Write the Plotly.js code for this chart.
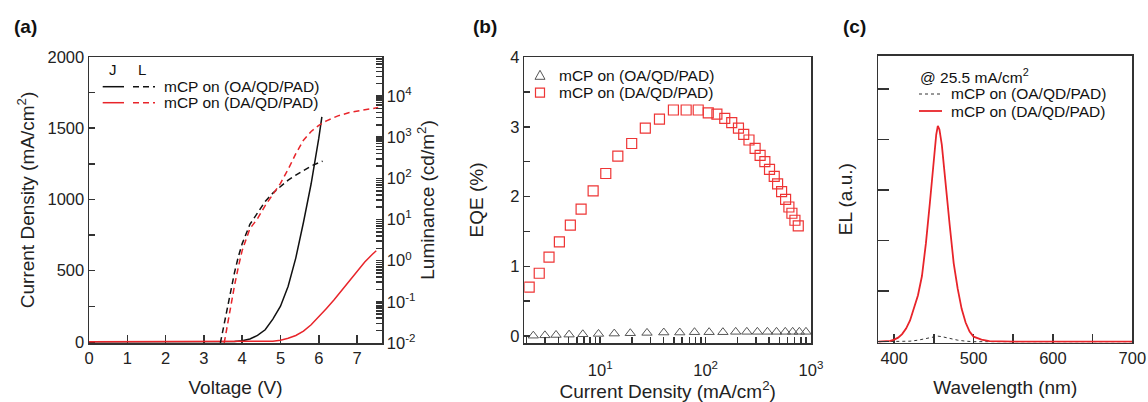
<!DOCTYPE html>
<html>
<head>
<meta charset="utf-8">
<script src="https://cdn.plot.ly/plotly-3.0.1.min.js"></script>
<style>html,body{margin:0;padding:0;background:#fff;}#chart{width:1148px;height:402px;}</style>
</head>
<body>
<div id="chart"></div>
<script>
// ---------- Panel (a): J-V-L ----------
const vJ_OA = [0, 3.5, 3.8, 4.0, 4.2, 4.4, 4.6, 4.8, 5.0, 5.2, 5.4, 5.6, 5.8, 6.0, 6.08];
const J_OA  = [0, 0.5, 3, 8, 20, 45, 85, 160, 250, 390, 590, 840, 1110, 1430, 1580];
const vJ_DA = [0, 4.5, 4.8, 5.0, 5.2, 5.4, 5.6, 5.8, 6.0, 6.2, 6.4, 6.6, 6.8, 7.0, 7.2, 7.4, 7.5];
const J_DA  = [0, 1, 5, 12, 25, 45, 75, 120, 175, 235, 295, 360, 430, 495, 560, 615, 640];
const vL_OA = [3.43, 3.5, 3.6, 3.7, 3.8, 3.9, 4.0, 4.2, 4.4, 4.6, 4.8, 5.0, 5.2, 5.4, 5.6, 5.8, 6.0, 6.1];
const L_OA  = [0.01, 0.022, 0.063, 0.2, 0.52, 1.26, 2.6, 7.6, 15, 27.5, 44, 63, 91, 120, 158, 200, 240, 263];
const vL_DA = [3.53, 3.6, 3.7, 3.8, 3.9, 4.0, 4.2, 4.4, 4.6, 4.8, 5.0, 5.2, 5.4, 5.6, 5.8, 6.0, 6.2, 6.5, 6.8, 7.1, 7.4, 7.55];
const L_DA  = [0.01, 0.024, 0.076, 0.25, 0.71, 1.78, 6.0, 10.5, 21.9, 41.7, 75.9, 166, 398, 851, 1380, 1950, 2510, 3310, 3980, 4470, 5010, 5250];
const jTicksA = [0, 500, 1000, 1500, 2000];
const lumDecades = [0.01, 0.1, 1, 10, 100, 1000, 10000];
const lumDecadeText = ['10<sup>-2</sup>','10<sup>-1</sup>','10<sup>0</sup>','10<sup>1</sup>','10<sup>2</sup>','10<sup>3</sup>','10<sup>4</sup>'];

// ---------- Panel (b): EQE ----------
const jEQE_OA = [2.32, 2.99, 3.81, 5.07, 6.84, 9.64, 13.6, 19.3, 27.8, 40.1, 56.9, 78.5, 108, 146, 193, 246, 310, 386, 471, 570, 670, 775, 896, 1038];
const EQE_OA  = [0.005, 0.01, 0.015, 0.02, 0.025, 0.03, 0.035, 0.04, 0.045, 0.05, 0.05, 0.055, 0.055, 0.055, 0.06, 0.06, 0.06, 0.06, 0.06, 0.06, 0.06, 0.06, 0.06, 0.06];
const jEQE_DA = [2.12, 2.64, 3.27, 4.10, 5.21, 6.59, 8.57, 11.3, 14.7, 19.9, 26.8, 36.5, 49.5, 65.4, 85.1, 106, 128, 152, 177, 205, 230, 258, 295, 329, 365, 404, 448, 482, 526, 574, 617, 659, 704, 757];
const EQE_DA  = [0.70, 0.90, 1.13, 1.35, 1.59, 1.82, 2.08, 2.33, 2.58, 2.76, 2.98, 3.11, 3.24, 3.24, 3.24, 3.20, 3.18, 3.12, 3.06, 2.98, 2.89, 2.81, 2.69, 2.59, 2.50, 2.39, 2.29, 2.18, 2.07, 1.96, 1.85, 1.76, 1.66, 1.58];
const jDecades = [10, 100, 1000];
const jDecadeText = ['10<sup>1</sup>', '10<sup>2</sup>', '10<sup>3</sup>'];

// ---------- Panel (c): EL spectra ----------
const wl_DA = [380, 390, 395, 400, 405, 410, 415, 420, 425, 430, 435, 440, 445, 450, 453, 455, 457, 460, 465, 470, 475, 480, 485, 490, 495, 500, 505, 510, 520, 530, 550, 600, 650, 700];
const EL_DA = [0, 0.005, 0.015, 0.04, 0.08, 0.15, 0.26, 0.42, 0.65, 0.92, 1.30, 1.95, 2.75, 3.65, 4.10, 4.27, 4.20, 3.90, 3.05, 2.30, 1.55, 1.05, 0.65, 0.38, 0.20, 0.10, 0.07, 0.04, 0.01, 0.003, 0, 0, 0, 0];
const wl_OA = [380, 410, 420, 430, 440, 450, 455, 460, 470, 480, 490, 500, 550, 700];
const EL_OA = [0, 0, 0.01, 0.03, 0.06, 0.10, 0.11, 0.10, 0.06, 0.03, 0.01, 0, 0, 0];
const wlTicks = [400, 500, 600, 700];

// ---------- labels ----------
const seriesOA = 'mCP on (OA/QD/PAD)';
const seriesDA = 'mCP on (DA/QD/PAD)';
const elNote = '@ 25.5 mA/cm<sup>2</sup>';

const RED = '#e8242a', BLK = '#111111', AX = '#333333', SQ = '#ee3535', TRI = '#555555';
const FONT = 'Liberation Sans, Arial, Helvetica, sans-serif';
const W = 1148, H = 402;
const px = v => v / W, py = v => 1 - v / H;

// tick arrays: labelled ticks plus unlabelled intermediate ticks
function linTicks(labelled, step) {
  const vals = [], text = [];
  const lo = labelled[0], hi = labelled[labelled.length - 1];
  const n = Math.round((hi - lo) / step);
  for (let k = 0; k <= n; k++) {
    const v = lo + k * step;
    const i = labelled.findIndex(l => Math.abs(l - v) < 1e-9);
    vals.push(v); text.push(i >= 0 ? String(labelled[i]) : '');
  }
  return {vals, text};
}
function logTicks(decades, labels, lo, hi) {
  const vals = [], text = [];
  decades.forEach((d, i) => {
    if (d >= lo && d <= hi) { vals.push(d); text.push(labels[i]); }
    for (let m = 2; m <= 9; m++) { const v = m * d; if (v >= lo && v <= hi) { vals.push(v); text.push(''); } }
  });
  return {vals, text};
}
const yA = linTicks(jTicksA, 250);
const lumT = logTicks(lumDecades, lumDecadeText, 0.01, 89000);
const jT = logTicks([1, 10, 100, 1000], ['', ...jDecadeText], 1.9, 1000);
const wlT = linTicks(wlTicks, 50);

const traces = [
  {x: vJ_OA, y: J_OA, xaxis: 'x', yaxis: 'y', mode: 'lines', name: 'J ' + seriesOA, line: {color: BLK, width: 1.5}, showlegend: false},
  {x: vJ_DA, y: J_DA, xaxis: 'x', yaxis: 'y', mode: 'lines', name: 'J ' + seriesDA, line: {color: RED, width: 1.5}, showlegend: false},
  {x: vL_OA, y: L_OA, xaxis: 'x', yaxis: 'y2', mode: 'lines', name: 'L ' + seriesOA, line: {color: BLK, width: 1.5, dash: '6px,4px'}, showlegend: false},
  {x: vL_DA, y: L_DA, xaxis: 'x', yaxis: 'y2', mode: 'lines', name: 'L ' + seriesDA, line: {color: RED, width: 1.5, dash: '6px,4px'}, showlegend: false},
  {x: jEQE_OA, y: EQE_OA, xaxis: 'x2', yaxis: 'y3', mode: 'markers', name: seriesOA, showlegend: false,
   marker: {symbol: 'triangle-up-open', size: 9, color: TRI, line: {width: 1}}, cliponaxis: false},
  {x: jEQE_DA, y: EQE_DA, xaxis: 'x2', yaxis: 'y3', mode: 'markers', name: seriesDA, showlegend: false,
   marker: {symbol: 'square-open', size: 10, color: SQ, line: {width: 1.2}}},
  {x: wl_OA, y: EL_OA, xaxis: 'x3', yaxis: 'y4', mode: 'lines', name: seriesOA, showlegend: false,
   line: {color: '#333333', width: 1, dash: 'dot'}},
  {x: wl_DA, y: EL_DA, xaxis: 'x3', yaxis: 'y4', mode: 'lines', name: seriesDA, showlegend: false,
   line: {color: RED, width: 1.8}}
];

const tickFont = {family: FONT, size: 16.5, color: '#222'};
const titleFont = {family: FONT, size: 19, color: '#222'};
const base = {showline: true, linecolor: AX, linewidth: 1.5, showgrid: false, zeroline: false, tickcolor: AX, tickwidth: 1.5, tickangle: 0, tickfont: tickFont};

const domA = [px(89), px(382)], domB = [px(524.3), px(811)], domC = [px(878.3), px(1132.3)];
const domY = [py(343), py(57)];

function triPath(cx, cy, s) { return 'M' + px(cx - s / 2) + ',' + py(cy + s * 0.43) + ' L' + px(cx + s / 2) + ',' + py(cy + s * 0.43) + ' L' + px(cx) + ',' + py(cy - s * 0.47) + ' Z'; }
function lineShape(x0, x1, y, color, width, dash) { return {type: 'line', xref: 'paper', yref: 'paper', x0: px(x0), x1: px(x1), y0: py(y), y1: py(y), line: {color: color, width: width, dash: dash || 'solid'}}; }
function txt(text, x, y, size, anchor, bold) { return {text: bold ? '<b>' + text + '</b>' : text, xref: 'paper', yref: 'paper', x: px(x), y: py(y), xanchor: anchor || 'left', yanchor: 'middle', showarrow: false, font: {family: FONT, size: size, color: '#111'}}; }

const layout = {
  width: W, height: H, autosize: false,
  margin: {l: 0, r: 0, t: 0, b: 0},
  paper_bgcolor: '#fff', plot_bgcolor: '#fff',
  font: {family: FONT, color: '#222'},
  showlegend: false,
  xaxis: Object.assign({}, base, {domain: domA, anchor: 'y', range: [0, 7.65], dtick: 1, tick0: 0,
    ticks: 'inside', ticklen: 8, mirror: true, layer: 'below traces',
    title: {text: 'Voltage (V)', font: titleFont, standoff: 14}}),
  yaxis: Object.assign({}, base, {domain: domY, anchor: 'x', range: [-8, 2000],
    tickmode: 'array', tickvals: yA.vals, ticktext: yA.text,
    ticks: 'inside', ticklen: 6, layer: 'below traces',
    title: {text: 'Current Density (mA/cm<sup>2</sup>)', font: titleFont, standoff: 8}}),
  yaxis2: Object.assign({}, base, {overlaying: 'y', side: 'right', anchor: 'x', type: 'log', range: [-2, 4.95],
    tickmode: 'array', tickvals: lumT.vals, ticktext: lumT.text, ticks: 'inside', ticklen: 6,
    title: {text: 'Luminance (cd/m<sup>2</sup>)', font: titleFont, standoff: 6}}),
  xaxis2: Object.assign({}, base, {domain: domB, anchor: 'y3', type: 'log', range: [0.28, 3.0],
    tickmode: 'array', tickvals: jT.vals, ticktext: jT.text, ticks: 'inside', ticklen: 6, mirror: true,
    ticklabelstandoff: 12,
    title: {text: 'Current Density (mA/cm<sup>2</sup>)', font: titleFont, standoff: 8}}),
  yaxis3: Object.assign({}, base, {domain: domY, anchor: 'x2', range: [-0.1, 4],
    tickmode: 'array', tickvals: [0, 0.5, 1, 1.5, 2, 2.5, 3, 3.5, 4], ticktext: ['0', '', '1', '', '2', '', '3', '', '4'],
    ticks: 'inside', ticklen: 6, mirror: true,
    title: {text: 'EQE (%)', font: titleFont, standoff: 21}}),
  xaxis3: Object.assign({}, base, {domain: domC, anchor: 'y4', range: [380, 700],
    tickmode: 'array', tickvals: wlT.vals, ticktext: wlT.text, ticks: 'inside', ticklen: 9, mirror: true, layer: 'below traces',
    title: {text: 'Wavelength (nm)', font: titleFont, standoff: 14}}),
  yaxis4: Object.assign({}, base, {domain: [py(342.7), py(55.7)], anchor: 'x3', range: [-0.02, 5.66], dtick: 1, tick0: 0,
    ticks: 'inside', ticklen: 11, mirror: true, showticklabels: false,
    title: {text: 'EL (a.u.)', font: titleFont, standoff: 19}}),
  shapes: [
    lineShape(102.7, 124, 86.7, BLK, 1.5),
    lineShape(133, 155, 86.7, BLK, 1.5, '6px,4px'),
    lineShape(102.7, 124, 102.7, RED, 1.5),
    lineShape(133, 155, 102.7, RED, 1.5, '6px,4px'),
    {type: 'path', xref: 'paper', yref: 'paper', path: triPath(540, 75, 10), line: {color: TRI, width: 1}, fillcolor: 'rgba(0,0,0,0)'},
    {type: 'rect', xref: 'paper', yref: 'paper', x0: px(535.5), x1: px(544.5), y0: py(97.2), y1: py(88.2), line: {color: SQ, width: 1.2}, fillcolor: 'rgba(0,0,0,0)'},
    lineShape(919, 942, 94, '#333333', 1, 'dot'),
    lineShape(919, 942, 111, RED, 1.8)
  ],
  annotations: [
    txt('(a)', 12, 27, 19, 'left', true),
    txt('(b)', 471, 27, 19, 'left', true),
    txt('(c)', 841, 27, 19, 'left', true),
    txt('J', 112.7, 69.3, 15, 'center'),
    txt('L', 141.7, 69.3, 15, 'center'),
    txt(seriesOA, 162, 86.7, 15.5),
    txt(seriesDA, 162, 102.7, 15.5),
    txt(seriesOA, 557, 75, 15.5),
    txt(seriesDA, 557, 92.7, 15.5),
    txt(elNote, 918, 76, 15.5),
    txt(seriesOA, 949, 94, 15.5),
    txt(seriesDA, 949, 111, 15.5)
  ]
};

Plotly.newPlot('chart', traces, layout, {staticPlot: true, displayModeBar: false});
</script>
</body>
</html>
